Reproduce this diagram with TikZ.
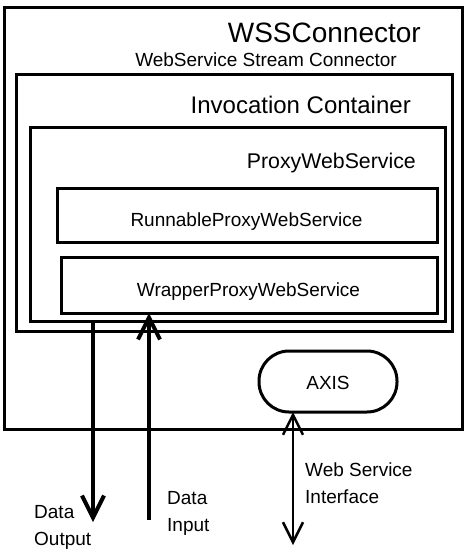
\documentclass[tikz,border=0pt]{standalone}
\usepackage{fontspec}
\setmainfont{Liberation Sans}
\usetikzlibrary{arrows.meta}
\begin{document}
\begin{tikzpicture}[x=1pt,y=-1pt,
  box/.style={draw, line width=3pt, inner sep=0pt, outer sep=0pt},
  lbl/.style={inner sep=0pt, font=\fontsize{19}{27}\selectfont},
  multi/.style={lbl, align=left, anchor=north west},
  flow/.style={line width=4pt, -{Straight Barb[length=22pt,width=22pt]}},
  iface/.style={line width=2.5pt, {Straight Barb[length=20pt,width=20pt]}-{Straight Barb[length=20pt,width=20pt]}}]
\useasboundingbox (0,0) rectangle (468,552);
\fill[white] (0,0) rectangle (468,552);
% boxes
\node[box, minimum width=458pt, minimum height=422pt] (wss) at (233,218) {};
\node[box, minimum width=436pt, minimum height=257pt] (inv) at (234,202.5) {};
\node[box, minimum width=415pt, minimum height=194pt] (proxy) at (237.5,224) {};
\node[box, minimum width=380pt, minimum height=54pt] (run) at (247,215) {};
\node[box, minimum width=376pt, minimum height=56pt] (wrap) at (249,285) {};
\node[box, minimum width=138pt, minimum height=61pt, rounded corners=30pt] (axis) at (328,381.5) {};
% titles
\node[inner sep=0pt, font=\fontsize{28}{32}\selectfont, anchor=base east] (wsst) at (421,42) {WSSConnector};
\node[lbl, anchor=base east] (wsssub) at (397,66) {WebService Stream Connector};
\node[inner sep=0pt, font=\fontsize{24}{28}\selectfont, anchor=base east] (invt) at (411,113) {Invocation Container};
\node[inner sep=0pt, font=\fontsize{21.3}{26}\selectfont, anchor=base east] (proxyt) at (416,168) {ProxyWebService};
\node[lbl, anchor=base] (runt) at (246.5,226) {RunnableProxyWebService};
\node[lbl, anchor=base] (wrapt) at (248.5,296) {WrapperProxyWebService};
\node[lbl, anchor=base] (axist) at (328,389) {AXIS};
% free ends
\coordinate (outend) at (93,522);
\coordinate (instart) at (149,520);
\coordinate (wsend) at (293,545);
% connectors
\draw[flow] (outend |- proxy.south) -- (outend);
\draw[flow] (instart) -- (instart |- wrap.south);
\draw[iface] (wsend |- axis.south) -- (wsend);
% connector labels
\node[multi] (outl) at (34,505) {Data\\Output};
\node[multi] (inl) at (167,491) {Data\\Input};
\node[multi] (wsl) at (305,463) {Web Service\\Interface};
\end{tikzpicture}
\end{document}
